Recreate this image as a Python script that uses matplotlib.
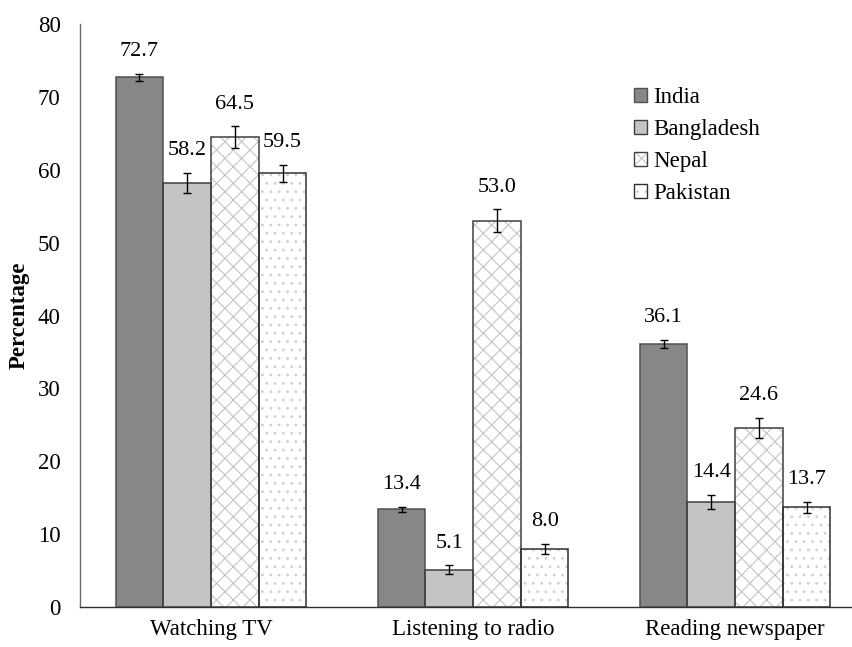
import matplotlib
matplotlib.use("Agg")
import matplotlib.pyplot as plt
import numpy as np
from matplotlib.patches import Patch

categories = ["Watching TV", "Listening to radio", "Reading newspaper"]
countries = ["India", "Bangladesh", "Nepal", "Pakistan"]

india = [72.7, 13.4, 36.1]
bangladesh = [58.2, 5.1, 14.4]
nepal = [64.5, 53.0, 24.6]
pakistan = [59.5, 8.0, 13.7]

india_err = [0.5, 0.35, 0.6]
bangladesh_err = [1.4, 0.6, 1.0]
nepal_err = [1.5, 1.6, 1.4]
pakistan_err = [1.2, 0.7, 0.75]

values = [india, bangladesh, nepal, pakistan]
errors = [india_err, bangladesh_err, nepal_err, pakistan_err]

# fill colour, hatch, hatch colour, edge colour
styles = [
    ("#878787", "", "#878787", "#505050"),
    ("#c4c4c4", "", "#c4c4c4", "#404040"),
    ("#ffffff", "xx", "#c4c4c4", "#404040"),
    ("#ffffff", "..", "#d0d0d0", "#303030"),
]

plt.rcParams["font.family"] = ["Liberation Serif", "DejaVu Serif"]
plt.rcParams["hatch.linewidth"] = 0.8

fig = plt.figure(figsize=(8.53, 6.47), dpi=100)
ax = fig.add_axes([80 / 853, 1 - 607 / 647, 773 / 853, 583 / 647])

x = np.arange(len(categories))
w = 0.182
handles = []
for i, (name, vals, errs) in enumerate(zip(countries, values, errors)):
    fc, hatch, hc, ec = styles[i]
    pos = x + (i - 1.5) * w
    ax.bar(pos, vals, w, color=fc, hatch=hatch, edgecolor=hc, linewidth=0, zorder=2)
    ax.bar(pos, vals, w, facecolor="none", edgecolor=ec, linewidth=1.1, zorder=3)
    ax.errorbar(pos, vals, yerr=errs, fmt="none", ecolor="black",
                elinewidth=1.0, capsize=3, capthick=1.0, zorder=4)
    for px, v, e in zip(pos, vals, errs):
        ax.annotate(f"{v:.1f}", (px, v + e), xytext=(0, 9), textcoords="offset points",
                    ha="center", va="bottom", fontsize=16)
    handles.append((Patch(facecolor=fc, hatch=hatch, edgecolor=hc, linewidth=0),
                    Patch(facecolor="none", edgecolor=ec, linewidth=1.0)))

ax.set_xlim(-0.5, 2.45)
ax.set_ylim(0, 80)
ax.set_yticks(range(0, 81, 10))
ax.set_xticks(x)
ax.set_xticklabels(categories, fontsize=16.5)
ax.tick_params(axis="y", length=0, labelsize=16.5, pad=14)
ax.tick_params(axis="x", length=0, pad=9)
ax.set_ylabel("Percentage", fontsize=16.5, fontweight="bold", labelpad=6)

for s in ["top", "right"]:
    ax.spines[s].set_visible(False)
ax.spines["left"].set_color("#6a6a6a")
ax.spines["bottom"].set_color("#303030")
ax.spines["left"].set_linewidth(1.0)
ax.spines["bottom"].set_linewidth(1.0)

ax.legend(handles, countries, loc="upper left", bbox_to_anchor=(0.702, 0.912),
          frameon=False, fontsize=16.5, handlelength=0.55, handleheight=0.55,
          handletextpad=0.3, labelspacing=0.49, borderpad=0)

fig.savefig("out.png", dpi=100)
